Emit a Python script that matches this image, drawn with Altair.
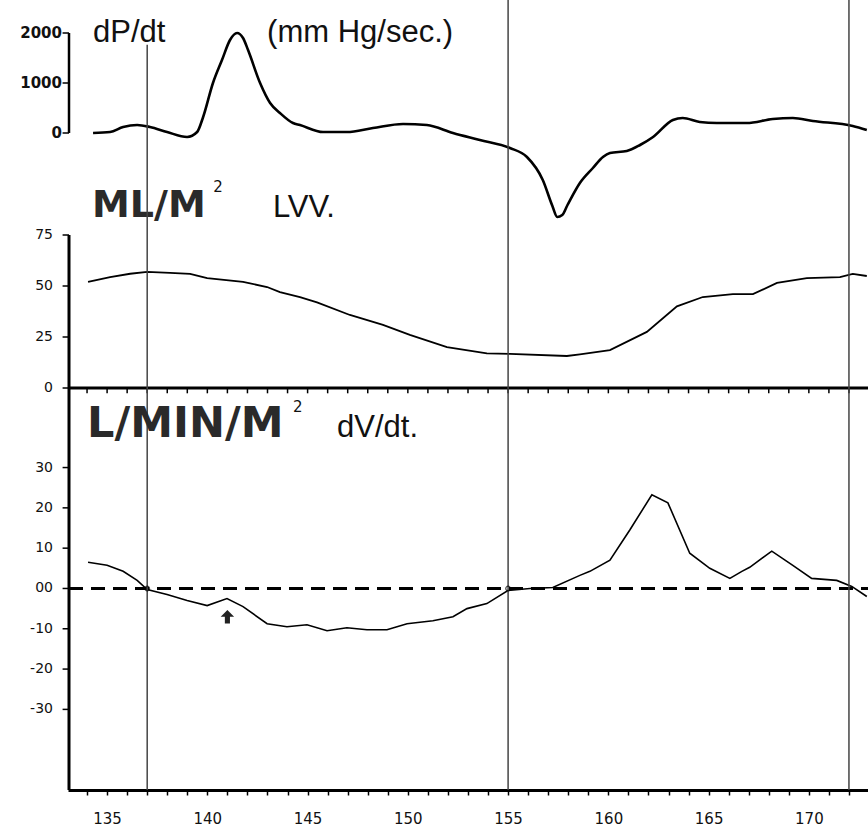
import altair as alt
import pandas as pd

# ---------------- data ----------------
dpdt_t = [134.3, 135.15, 135.8, 136.5, 137.14, 137.99, 138.99, 139.49, 139.79, 140.28,
          140.73, 141.13, 141.48, 141.78, 142.03, 142.63, 143.13, 143.62, 144.27, 144.62,
          145.77, 146.96, 148.26, 149.76, 150.95, 152.25, 153.59, 155.09, 155.94, 156.73,
          157.2, 157.45, 157.7, 157.95, 158.58, 159.23, 159.73, 160.08, 160.92, 161.58,
          162.23, 163.22, 163.71, 164.56, 165.41, 166.9, 168.2, 169.2, 170.2, 172.19, 172.89]
dpdt_v = [0, 20, 120, 160, 120, 20, -80, 20, 320, 1000,
          1460, 1860, 2000, 1900, 1660, 1000, 600, 400, 200, 160,
          20, 20, 100, 180, 160, 0, -140, -300, -480, -940,
          -1450, -1680, -1640, -1450, -1000, -700, -480, -400, -360, -240,
          -80, 260, 300, 220, 200, 200, 280, 300, 240, 140, 60]

lvv_t = [134.05, 135.15, 136.15, 137.0, 138.14, 139.14, 139.99, 141.78, 142.98, 143.62,
         144.62, 145.47, 147.11, 148.76, 150.1, 151.95, 153.94, 155.09, 157.93, 158.58,
         160.08, 161.92, 163.42, 164.71, 166.21, 167.21, 168.41, 169.9, 171.55, 172.19, 172.89]
lvv_v = [52, 54.4, 56, 56.9, 56.4, 55.9, 53.9, 52, 49.5, 47,
         44.6, 42, 35.8, 30.9, 26, 20, 17, 16.7, 15.7, 16.5,
         18.6, 27.5, 40, 44.6, 46, 46, 51.5, 53.9, 54.4, 55.9, 54.9]

dvdt_t = [134.05, 135.0, 135.8, 136.5, 137.0, 137.99, 138.99, 139.99, 140.98, 141.78,
          142.98, 143.97, 144.97, 145.97, 146.96, 147.96, 148.96, 149.96, 151.25, 152.25,
          152.95, 153.94, 154.99, 156.09, 157.23, 158.58, 159.08, 160.08, 161.07, 162.17,
          162.97, 164.06, 165.06, 166.06, 166.66, 167.05, 168.15, 169.2, 170.14, 171.39,
          172.14, 172.89]
dvdt_v = [6.5, 5.75, 4.25, 2, -0.25, -1.5, -3, -4.25, -2.5, -4.5,
          -8.75, -9.5, -9, -10.5, -9.75, -10.25, -10.25, -8.75, -8, -7,
          -5, -3.75, -0.5, 0, 0.25, 3.25, 4.25, 7, 14.5, 23.25,
          21.25, 8.75, 5, 2.5, 4.25, 5.25, 9.25, 5.75, 2.5, 2,
          0.5, -2]

x_ticks = list(range(134, 173))
top_ticks = [0, 1000, 2000]
top_tick_labels = ["0", "1000", "2000"]
mid_ticks = [0, 25, 50, 75]
mid_tick_labels = ["0", "25", "50", "75"]
bot_ticks = [30, 20, 10, 0, -10, -20, -30]
bot_tick_labels = ["30", "20", "10", "00", "-10", "-20", "-30"]
event_t = [137, 155, 172]
event_top = [134.9, 146, 146]
crossing_t = [137, 155]
arrow_t = [141]
arrow_v = [-7]

# ---------------- scales ----------------
XDOM = [133.05, 172.95]
TOP_DOM = [-13140, 2660]
MID_DOM = [-197.06, 190.2]
BOT_DOM = [-50, 146]
AX_T = 133.1

XAXIS = alt.Axis(values=x_ticks,
                 labelExpr="datum.value % 5 == 0 ? datum.label : ''",
                 labelOverlap=False, labelFlush=False,
                 tickSize=5, tickWidth=1.5, tickColor="black",
                 domainColor="black", domainWidth=3,
                 labelFont="DejaVu Sans", labelFontSize=15, labelColor="#111",
                 labelPadding=16, grid=False, title=None)


def X(field="t"):
    return alt.X(f"{field}:Q", scale=alt.Scale(domain=XDOM, nice=False, zero=False),
                 axis=XAXIS, title=None)


def Y(dom, field="v"):
    return alt.Y(f"{field}:Q", scale=alt.Scale(domain=dom, nice=False, zero=False), axis=None)


def panel_axis(dom, v_from, v_to, ticks, labels, label_t, bold, width):
    layers = []
    if v_from != v_to:
        layers.append(alt.Chart(pd.DataFrame({"t": [AX_T, AX_T], "v": [v_from, v_to]})).mark_line(
            color="black", strokeWidth=width).encode(x=X(), y=Y(dom)))
    layers.append(alt.Chart(pd.DataFrame({"t": AX_T, "t2": AX_T - 0.32, "v": ticks})).mark_rule(
        color="black", strokeWidth=1.5).encode(x=X(), x2="t2:Q", y=Y(dom)))
    layers.append(alt.Chart(pd.DataFrame({"t": label_t, "v": ticks, "lab": labels})).mark_text(
        align="right", baseline="middle", font="DejaVu Sans",
        fontSize=15 if bold else 14, fontWeight="bold" if bold else "normal",
        color="#111").encode(x=X(), y=Y(dom), text="lab:N"))
    return layers


def label(dom, t, v, text, font, size, weight="normal", color="#111"):
    return alt.Chart(pd.DataFrame({"t": [t], "v": [v], "lab": [text]})).mark_text(
        align="left", baseline="alphabetic", font=font, fontSize=size,
        fontWeight=weight, color=color).encode(x=X(), y=Y(dom), text="lab:N")


# ---------------- top panel: dP/dt ----------------
top_line = alt.Chart(pd.DataFrame({"t": dpdt_t, "v": dpdt_v})).mark_line(
    color="black", strokeWidth=2.6, interpolate="monotone").encode(x=X(), y=Y(TOP_DOM))
top = alt.layer(
    top_line,
    *panel_axis(TOP_DOM, 0, 2000, top_ticks, top_tick_labels, 132.75, True, 2.5),
    label(TOP_DOM, 134.3, 1820, "dP/dt", "Liberation Sans", 31),
    label(TOP_DOM, 142.98, 1820, "(mm Hg/sec.)", "Liberation Sans", 31),
)

# ---------------- middle panel: LVV ----------------
mid_line = alt.Chart(pd.DataFrame({"t": lvv_t, "v": lvv_v})).mark_line(
    color="black", strokeWidth=1.8).encode(x=X(), y=Y(MID_DOM))
zero_line = alt.Chart(pd.DataFrame({"t": [XDOM[0]], "t2": [XDOM[1]], "v": [0]})).mark_rule(
    color="black", strokeWidth=3).encode(x=X(), x2="t2:Q", y=Y(MID_DOM))
zero_ticks = alt.Chart(pd.DataFrame({"t": x_ticks, "v": 0, "v2": -2.6})).mark_rule(
    color="black", strokeWidth=1.5).encode(x=X(), y=Y(MID_DOM), y2="v2:Q")
mid = alt.layer(
    mid_line, zero_line, zero_ticks,
    *panel_axis(MID_DOM, 75, MID_DOM[0], mid_ticks, mid_tick_labels, 132.3, False, 3),
    label(MID_DOM, 134.25, 83.8, "ML/M", "DejaVu Sans", 38, "bold", "#2a2a2a"),
    label(MID_DOM, 140.3, 96, "2", "DejaVu Sans", 15),
    label(MID_DOM, 143.27, 83.8, "LVV.", "Liberation Sans", 31),
)

# ---------------- bottom panel: dV/dt ----------------
dash_line = alt.Chart(pd.DataFrame({"t": [AX_T], "t2": [XDOM[1]], "v": [0]})).mark_rule(
    color="black", strokeWidth=3, strokeDash=[14, 8]).encode(x=X(), x2="t2:Q", y=Y(BOT_DOM))
bot_line = alt.Chart(pd.DataFrame({"t": dvdt_t, "v": dvdt_v})).mark_line(
    color="black", strokeWidth=1.6).encode(x=X(), y=Y(BOT_DOM))
events = alt.Chart(pd.DataFrame({"t": event_t, "v": BOT_DOM[0], "v2": event_top})).mark_rule(
    color="#444", strokeWidth=1.5).encode(x=X(), y=Y(BOT_DOM), y2="v2:Q")
crossings = alt.Chart(pd.DataFrame({"t": crossing_t, "v": 0})).mark_point(
    shape="circle", size=22, filled=False, color="black", strokeWidth=1.2).encode(
    x=X(), y=Y(BOT_DOM))
arrow = alt.Chart(pd.DataFrame({"t": arrow_t, "v": arrow_v})).mark_point(
    shape="M0,-1L1,0L0.38,0L0.38,1L-0.38,1L-0.38,0L-1,0Z", size=180, filled=True,
    color="#222", opacity=1).encode(x=X(), y=Y(BOT_DOM))
bot = alt.layer(
    dash_line, bot_line, events, crossings, arrow,
    *panel_axis(BOT_DOM, 0, 0, bot_ticks, bot_tick_labels, 132.3, False, 3),
    label(BOT_DOM, 134.0, 37.6, "L/MIN/M", "DejaVu Sans", 43, "bold", "#2a2a2a"),
    label(BOT_DOM, 144.27, 43.8, "2", "DejaVu Sans", 15),
    label(BOT_DOM, 146.47, 37.6, "dV/dt.", "Liberation Sans", 31),
)

chart = alt.layer(top, mid, bot).resolve_scale(y="independent").properties(
    width=800, height=790,
    background="white",
    padding={"left": 68, "top": 0, "right": 0, "bottom": 42},
    autosize=alt.AutoSizeParams(type="none"),
).configure_view(stroke="transparent", strokeWidth=0)

chart.save("out.html", embed_options={"renderer": "svg", "actions": False})
